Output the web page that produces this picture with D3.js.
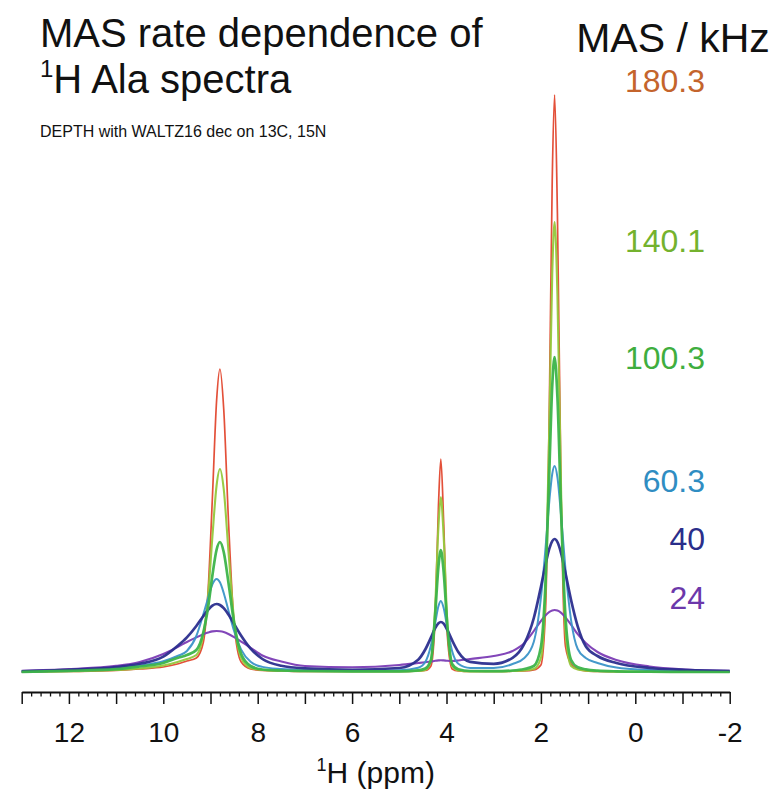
<!DOCTYPE html>
<html>
<head>
<meta charset="utf-8">
<script src="https://cdn.jsdelivr.net/npm/d3@7"></script>
<style>
  html, body { margin: 0; padding: 0; background: #ffffff; }
  svg { display: block; }
  text { font-family: "Liberation Sans", Arial, Helvetica, sans-serif; }
</style>
</head>
<body>
<div id="chart"></div>
<script>
// ---- data ----
// chemical shift grid (ppm)
const ppm = [13, 12, 11, 10.5, 10, 9.7, 9.5, 9.3, 9.15, 9.05, 8.96, 8.87, 8.80, 8.72, 8.62, 8.5, 8.35, 8.15, 7.9, 7.5, 7.0, 6.0, 5.0, 4.6, 4.45, 4.33, 4.24, 4.17, 4.12, 4.06, 3.98, 3.88, 3.75, 3.5, 3.0, 2.6, 2.35, 2.15, 2.0, 1.9, 1.82, 1.76, 1.71, 1.65, 1.57, 1.48, 1.36, 1.22, 1.05, 0.8, 0.4, -0.3, -1.1, -2];

// intensities (arbitrary units) for each MAS rate
const mas180 = [0, 0.5, 1.5, 3, 5, 8, 11, 14, 30, 82, 174, 272, 303, 263, 152, 48, 10, 3, 1.5, 1, 0.5, 0.5, 0.5, 1, 1.5, 6, 55, 167, 213, 150, 35, 3, 1, 0.5, 0.5, 0.8, 1, 2, 7, 64, 270, 492, 577, 458, 171, 26, 8, 3, 1, 0.5, 0.3, 0, 0, 0];
const mas140 = [0, 0.7, 2, 3.5, 6.5, 10, 13, 17, 38, 77, 135, 187, 203, 183, 121, 52, 14, 4, 2, 1.2, 0.8, 0.5, 0.6, 1, 2, 11, 65, 146, 175, 135, 47, 6, 1.5, 0.6, 0.5, 1, 1.5, 3, 14, 84, 251, 397, 450, 377, 177, 41, 6, 2.6, 1.4, 0.8, 0.4, 0.2, 0, 0];
const mas100 = [0.2, 1.2, 2.8, 5.5, 9, 14, 17, 22, 40, 65, 96.5, 122.5, 130, 120, 89.5, 49, 18, 6, 2.5, 1.5, 1, 0.6, 0.6, 1.6, 3.5, 12, 58, 106, 122, 100, 45, 8, 2.7, 1, 0.8, 1.5, 3, 6, 25, 92, 203, 286, 315, 275, 157, 56, 12, 4.7, 2.7, 1.4, 0.7, 0.3, 0.1, 0];
const mas60 = [0.5, 1.5, 3.6, 6.4, 10.8, 16, 21, 36, 58, 74, 87.6, 93, 89.7, 79, 61.5, 41, 22.4, 10.2, 5.1, 2.9, 1.7, 0.9, 1.7, 4.3, 10, 26.4, 48.8, 66, 71, 64, 43.3, 20.7, 8.3, 4.1, 4, 8, 14, 30.3, 74, 125, 171.7, 198, 206, 194.7, 155, 103, 51.7, 23, 14, 9, 4.5, 2, 0.8, 0.4];
const mas40 = [0.7, 2.2, 5, 8.2, 15.3, 26, 34.6, 46, 56, 62.1, 66.4, 68, 67, 63.8, 57.4, 48, 36.2, 23.3, 13, 6.2, 3.6, 2.2, 4, 12.3, 22.5, 34.4, 43.8, 48.8, 50, 48.3, 41.8, 31.6, 20, 10.1, 8.2, 14.1, 28.3, 54, 85, 108, 123.7, 130.9, 133, 130, 118.4, 99, 71.8, 45.7, 25.7, 16, 9, 4, 2, 1];
const mas24 = [1.2, 3, 6.1, 10.1, 18, 25, 30, 34.6, 37.8, 39.4, 40.6, 41, 40.7, 39.9, 38, 34.9, 30.4, 24.2, 16.5, 10.5, 6, 4.8, 7, 9, 9.8, 10.5, 11.2, 11.6, 11.8, 11.6, 11.2, 11, 11.5, 13, 16, 21, 29, 41, 51, 56.8, 60.2, 61.6, 62, 61.4, 59.1, 54.6, 47.1, 37.8, 29, 20, 12, 5.5, 2.5, 1.2];

const rateLabels = ["180.3", "140.1", "100.3", "60.3", "40", "24"];
const xTickLabels = [12, 10, 8, 6, 4, 2, 0, -2];

// ---- styles ----
const lineColors = ["#e2472e", "#95c83c", "#3cb44a", "#3b93c8", "#2b2e8e", "#7b3cb5"];
const labelColors = ["#c4642c", "#74b22e", "#3fae3f", "#2f8dc2", "#2a2e8a", "#6c38aa"];
const lineWidths = [1.7, 2.1, 2.7, 2, 2.7, 2.1];
const labelY = [92, 252, 369, 492, 550, 609];
const drawOrder = [0, 1, 5, 3, 4, 2];

const series = [mas180, mas140, mas100, mas60, mas40, mas24];

const W = 781, H = 795;
const svg = d3.select("#chart").append("svg").attr("width", W).attr("height", H);

const x = d3.scaleLinear().domain([13, -2]).range([21.7, 729.7]);
const y = d3.scaleLinear().domain([0, 577]).range([672, 95]);

const line = d3.line()
  .x(d => x(d[0]))
  .y(d => y(d[1]))
  .curve(d3.curveMonotoneX);

drawOrder.forEach(i => {
  const pts = ppm.map((p, k) => [p, series[i][k]]);
  svg.append("path")
    .datum(pts)
    .attr("d", line)
    .attr("fill", "none")
    .attr("stroke", lineColors[i])
    .attr("stroke-width", lineWidths[i])
    .attr("stroke-linejoin", "round")
    .attr("stroke-opacity", 0.95);
});

// ---- axis ----
const axisY = 692;
const majorVals = d3.range(13, -2.001, -1).map(v => Math.round(v));
const minorVals = d3.range(0, 76).map(i => +(13 - i * 0.2).toFixed(1)).filter(v => Math.abs(v - Math.round(v)) > 1e-6);

const minorAxis = d3.axisBottom(x).tickValues(minorVals).tickSize(4.5).tickSizeOuter(0).tickFormat("");
const majorAxis = d3.axisBottom(x).tickValues(majorVals).tickSize(12).tickSizeOuter(0).tickPadding(18)
  .tickFormat(v => xTickLabels.includes(v) ? String(v) : "");

const gMinor = svg.append("g").attr("transform", `translate(0,${axisY})`).call(minorAxis);
gMinor.select(".domain").remove();
gMinor.selectAll("line").attr("stroke", "#111").attr("stroke-width", 1.3);

const gMajor = svg.append("g").attr("transform", `translate(0,${axisY})`).call(majorAxis);
gMajor.select(".domain").attr("stroke", "#111").attr("stroke-width", 1.8);
gMajor.selectAll("line").attr("stroke", "#111").attr("stroke-width", 1.5);
gMajor.selectAll("text")
  .attr("fill", "#111")
  .style("font-size", "28px")
  .style("font-family", "'Liberation Sans', Arial, sans-serif");

// axis title
const xt = svg.append("text")
  .attr("x", (x(13) + x(-2)) / 2)
  .attr("y", 783)
  .attr("text-anchor", "middle")
  .attr("fill", "#111")
  .style("font-size", "30px");
xt.append("tspan").text("1").style("font-size", "18px").attr("dy", "-12");
xt.append("tspan").text("H (ppm)").attr("dy", "12");

// ---- titles ----
svg.append("text")
  .attr("x", 40).attr("y", 47)
  .attr("fill", "#111")
  .style("font-size", "40px")
  .text("MAS rate dependence of");

const t2 = svg.append("text")
  .attr("x", 40).attr("y", 93)
  .attr("fill", "#111")
  .style("font-size", "40px");
t2.append("tspan").text("1").style("font-size", "24px").attr("dy", "-16");
t2.append("tspan").text("H Ala spectra").attr("dy", "16");

svg.append("text")
  .attr("x", 40).attr("y", 137)
  .attr("fill", "#111")
  .style("font-size", "16px")
  .text("DEPTH with WALTZ16 dec on 13C, 15N");

svg.append("text")
  .attr("x", 673).attr("y", 52)
  .attr("text-anchor", "middle")
  .attr("fill", "#111")
  .style("font-size", "41px")
  .text("MAS / kHz");

svg.selectAll("text.rate")
  .data(rateLabels)
  .enter().append("text")
  .attr("class", "rate")
  .attr("x", 705)
  .attr("y", (d, i) => labelY[i])
  .attr("text-anchor", "end")
  .attr("fill", (d, i) => labelColors[i])
  .style("font-size", "32px")
  .text(d => d);
</script>
</body>
</html>
